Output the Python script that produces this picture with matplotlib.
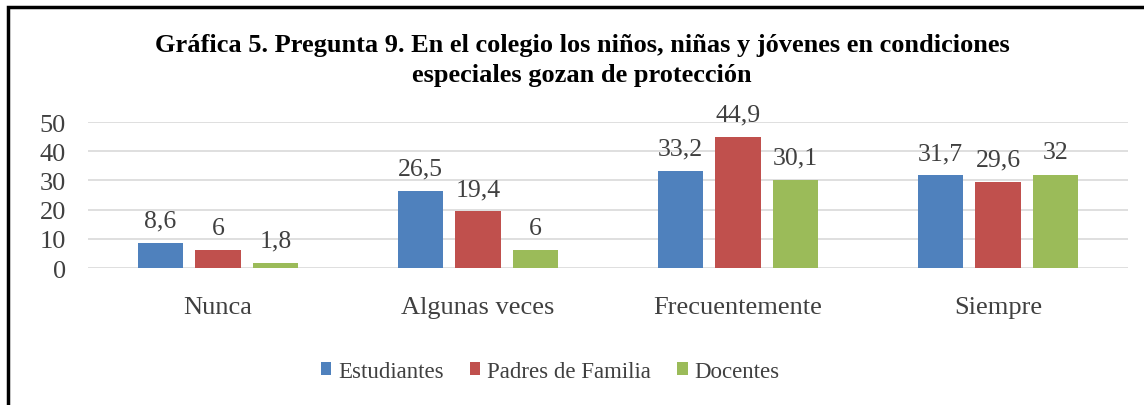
import numpy as np
import matplotlib
matplotlib.use('Agg')
import matplotlib.pyplot as plt
from matplotlib.patches import Rectangle

plt.rcParams['font.family'] = ['Liberation Serif', 'DejaVu Serif']

categories = ['Nunca', 'Algunas veces', 'Frecuentemente', 'Siempre']
series_names = ['Estudiantes', 'Padres de Familia', 'Docentes']
estudiantes = [8.6, 26.5, 33.2, 31.7]
padres = [6, 19.4, 44.9, 29.6]
docentes = [1.8, 6, 30.1, 32]
colors = ['#4F81BD', '#C0504D', '#9BBB59']

TEXT = '#404040'

fig = plt.figure(figsize=(11.44, 4.06), dpi=100)
ax = fig.add_axes([0.0769, 0.3374, 0.9091, 0.3596])

x = np.arange(len(categories))
width = 0.175
step = 0.221

for i, (vals, name) in enumerate(zip([estudiantes, padres, docentes], series_names)):
    pos = x + (i - 1) * step
    bars = ax.bar(pos, vals, width, color=colors[i], label=name, zorder=3)
    for b, v in zip(bars, vals):
        lbl = f"{v:g}".replace('.', ',')
        ax.text(b.get_x() + b.get_width() / 2, v + 5.6, lbl, ha='center', va='baseline',
                fontsize=18.5, color=TEXT)

ax.set_xlim(-0.5, len(categories) - 0.5)
ax.set_ylim(0, 50)
ax.set_yticks(range(0, 51, 10))
ax.set_xticks(x)
ax.set_xticklabels(categories)
ax.yaxis.grid(True, color='#D9D9D9', lw=1.2, zorder=0)
for s in ax.spines.values():
    s.set_visible(False)
ax.tick_params(axis='both', length=0, labelsize=19, labelcolor=TEXT)
ax.tick_params(axis='x', pad=20)
ax.tick_params(axis='y', pad=16)

fig.text(0.509, 0.851, 'Gráfica 5. Pregunta 9. En el colegio los niños, niñas y jóvenes en condiciones\n'
         'especiales gozan de protección', ha='center', va='center', fontsize=19,
         fontweight='bold', linespacing=1.38)

fig.legend(loc='center', bbox_to_anchor=(0.481, 0.083), ncol=3, frameon=False,
           fontsize=16.5, handlelength=0.45, handleheight=0.45, columnspacing=1.15,
           handletextpad=0.3, labelcolor=TEXT)

# outer chart border (right/bottom fall outside the crop)
fig.patches.append(Rectangle((8 / 1144, -0.2), 1.2, 1.2 - 8 / 406,
                             transform=fig.transFigure, fill=False,
                             edgecolor='black', lw=2.5, zorder=10))

fig.savefig('out.png', dpi=100)
